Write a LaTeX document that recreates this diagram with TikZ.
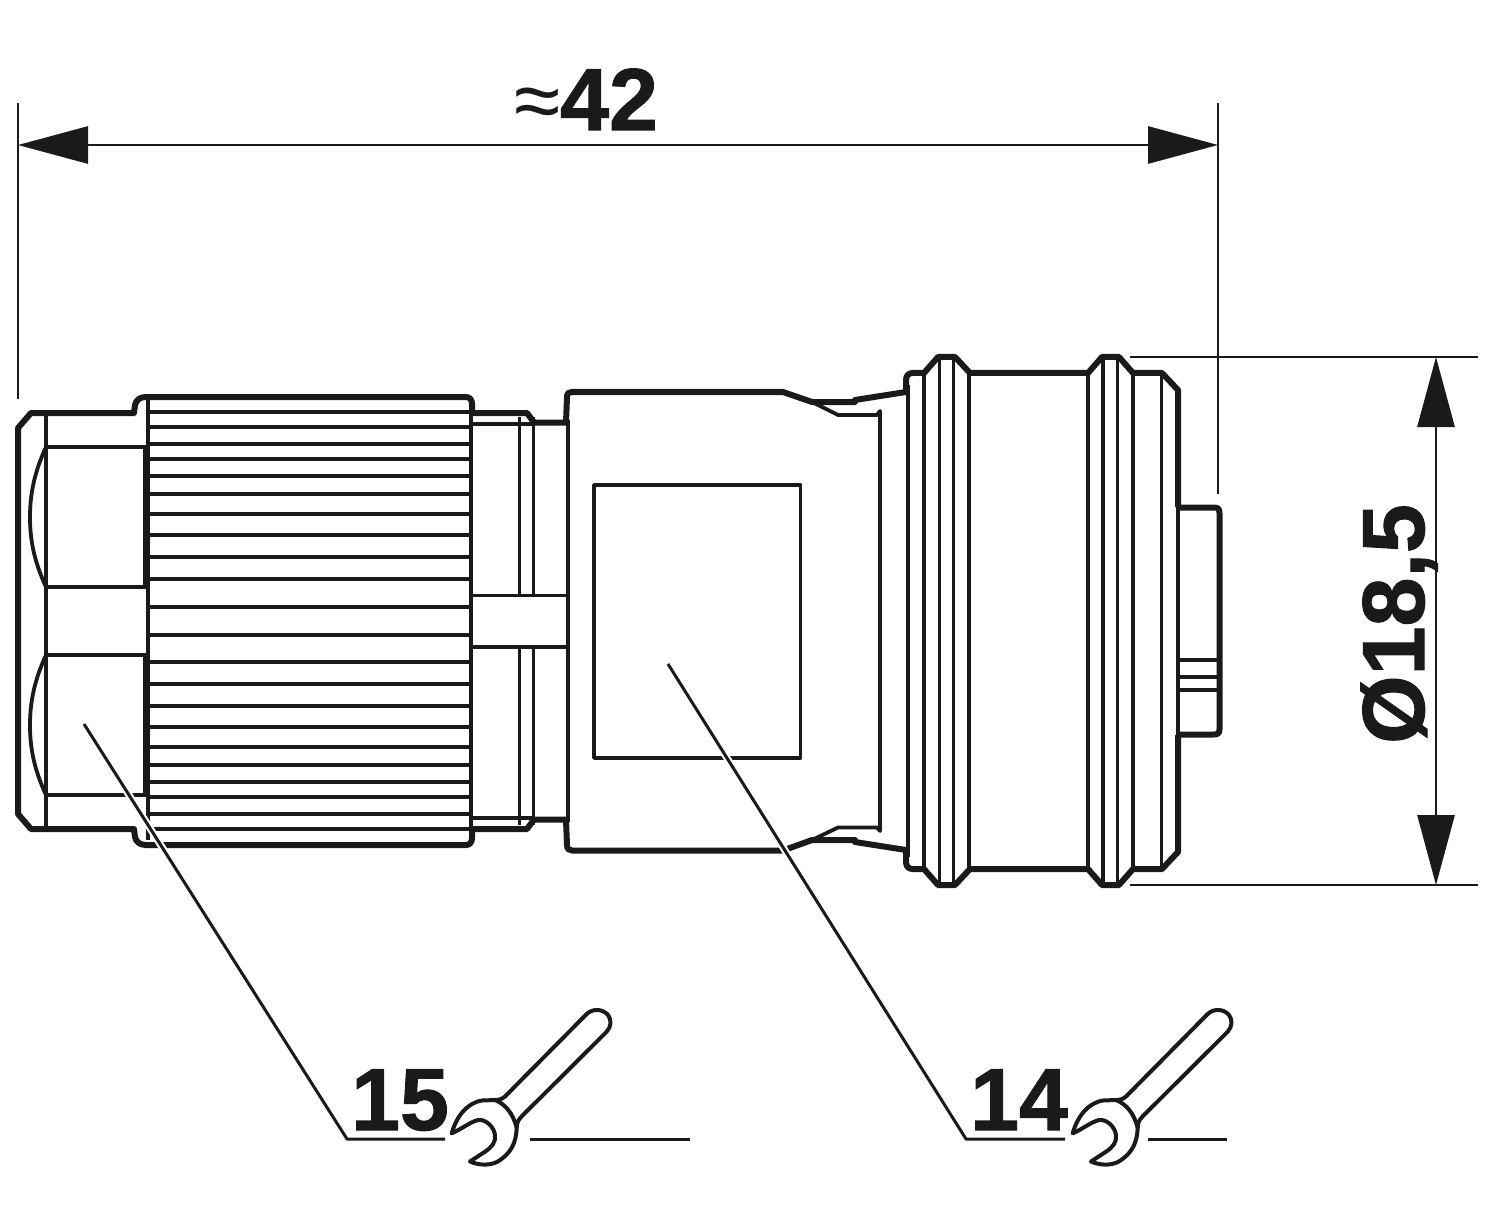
\documentclass[tikz,border=0pt]{standalone}
\usepackage{fontspec}
\setmainfont{Liberation Sans}
\newfontfamily\heavyfont[BoldFeatures={FakeBold=1.2}]{Liberation Sans}
\usetikzlibrary{arrows.meta}
\definecolor{ink}{HTML}{1A1A1A}
\tikzset{
  outline/.style={draw=ink,line width=3pt,line join=round},
  edge/.style={draw=ink,line width=1.9pt,line join=round},
  dimline/.style={draw=ink,line width=1.45pt},
  dimarrow/.style={dimline,{Triangle[length=35pt,width=18.5pt]}-{Triangle[length=35pt,width=18.5pt]}},
  leader/.style={draw=ink,line width=1.5pt,line join=round},
  halo/.style={draw=white,line width=3.6pt},
  wrenchline/.style={draw=ink,line width=2pt,line join=round},
  callout/.style={font=\fontsize{44}{44}\heavyfont\bfseries,text=ink,inner sep=0pt}
}
\begin{document}
\begin{tikzpicture}[x=0.5pt,y=-0.5pt]
\useasboundingbox (0,0) rectangle (1500,1209);

%knurling of the coupling nut
\foreach \yk in {427.3,444,459.3,476,494.3,514,535,556.7,579,606.7,635,662.3,684.3,706.3,727.3,747,765.3,782,797,814}
  \draw[edge] (148,\yk) -- (471,\yk);
\draw[edge] (147,411.7) -- (471,411.7);
\draw[edge] (153,829.3) -- (471,829.3);
\draw[edge] (148,400) -- (148,840);
\draw[edge] (471,400) -- (471,842);

%hexagon faces at the cable end
\draw[edge] (46,413) -- (46,829);
\draw[edge] (46,447) -- (147,447);
\draw[edge] (46,587) -- (147,587);
\draw[edge] (46,655) -- (147,655);
\draw[edge] (46,795) -- (147,795);
\draw[edge] (46,447) .. controls (34,473) and (30,495) .. (30,517) .. controls (30,540) and (34,561) .. (46,587);
\draw[edge] (46,655) .. controls (34,681) and (30,703) .. (30,725) .. controls (30,748) and (34,769) .. (46,795);
\draw[draw=ink,line width=3pt] (146,447) -- (146,587);
\draw[draw=ink,line width=3pt] (146,655) -- (146,795);

%neck between nut and body
\draw[edge] (472,424) -- (534,424);
\draw[edge] (472,818) -- (534,818);
\draw[edge] (472,595.5) -- (568,595.5);
\draw[edge] (472,647) -- (568,647);
\foreach \xn in {519.5,533.5} {
  \draw[edge] (\xn,417) -- (\xn,595.5);
  \draw[edge] (\xn,647) -- (\xn,825);
}

%body and label field
\draw[edge] (568,420) -- (568,822);
\draw[edge] (594,485) rectangle (800.5,758);
\draw[edge] (812,402) -- (838,415) -- (877,415) -- (880,411) -- (880,831) -- (877,827.5) -- (838,827.5) -- (812,840);

%rings of the threaded sleeve
\foreach \xr/\yr in {908/385,924/373,939.5/358,953.5/358,969/373,1088/373,1103/358,1117.5/358,1133/373,1161.5/373,1178/390}
  \draw[edge] (\xr,\yr) -- (\xr,1242-\yr);

%outer contour, top and bottom
\draw[outline] (18,621) -- (18,428) -- (31,413) -- (134,413) -- (135,405) .. controls (136,400) and (140,397) .. (146,397) -- (466,397) .. controls (470,397) and (472,400) .. (472,404) -- (472,413) -- (527,413) -- (534,422.5) -- (566,422.5) -- (567,397) .. controls (567,393) and (569,392) .. (572,392) -- (783,392) -- (812,402) -- (855,402) -- (855,400) -- (906,392) -- (906,380) .. controls (906,375) and (909,373) .. (913,373) -- (924,373) -- (938,357) -- (955,357) -- (970,373) -- (1088,373) -- (1102,357) -- (1119,357) -- (1133,373) -- (1162,373) -- (1178,390) -- (1178,507);
\draw[outline] (18,621) -- (18,814) -- (31,829) -- (134,829) -- (135,837) .. controls (136,842) and (140,845) .. (146,845) -- (466,845) .. controls (470,845) and (472,842) .. (472,838) -- (472,829) -- (527,829) -- (534,819.5) -- (566,819.5) -- (567,845) .. controls (567,849) and (569,850.5) .. (572,850.5) -- (783,850.5) -- (812,840) -- (855,840) -- (855,842) -- (906,850) -- (906,862) .. controls (906,867) and (909,869) .. (913,869) -- (924,869) -- (938,885) -- (955,885) -- (970,869) -- (1088,869) -- (1102,885) -- (1119,885) -- (1133,869) -- (1162,869) -- (1178,852) -- (1178,735);

%plug face on the right
\draw[outline] (1178,507.5) -- (1214,507.5) .. controls (1218,507.5) and (1219.5,509) .. (1219.5,513) -- (1219.5,729) .. controls (1219.5,733) and (1218,734.5) .. (1214,734.5) -- (1178,734.5);
\draw[draw=ink,line width=2.4pt] (1178,660) -- (1219,660);
\draw[edge] (1178,677) -- (1219,677);
\draw[edge] (1178,690) -- (1219,690);

%length dimension
\coordinate (lenL) at (18,145);
\coordinate (lenR) at (1218,145);
\coordinate (extLtop) at (18,103);
\coordinate (extLbot) at (18,399);
\coordinate (extRtop) at (1218,103);
\coordinate (extRbot) at (1218,494);
\draw[dimline] (extLtop) -- (extLbot);
\draw[dimline] (extRtop) -- (extRbot);
\draw[dimarrow] (lenL) -- (lenR);
\node[callout,anchor=base] (lenlabel) at (586,130) {{\fontsize{42}{42}\selectfont\setmainfont{Liberation Sans}\mdseries ≈}42};

%diameter dimension
\coordinate (diaT) at (1436,357);
\coordinate (diaB) at (1436,885);
\coordinate (extTl) at (1130,357);
\coordinate (extTr) at (1478,357);
\coordinate (extBl) at (1130,885);
\coordinate (extBr) at (1478,885);
\draw[dimline] (extTl) -- (extTr);
\draw[dimline] (extBl) -- (extBr);
\draw[dimarrow] (diaT) -- (diaB);
\node[callout,anchor=base,rotate=90] (dialabel) at (1424,624) {Ø18,5};

%leaders with their width marks
\node[callout,anchor=base] (mark15) at (400,1130) {15};
\node[callout,anchor=base] (mark14) at (1019,1130) {14};
\coordinate (tip15) at (84,724);
\coordinate (knee15) at (347,1139);
\coordinate (end15) at (445,1139);
\coordinate (tail15a) at (530,1139);
\coordinate (tail15b) at (690,1139);
\coordinate (tip14) at (668,664);
\coordinate (knee14) at (966,1139);
\coordinate (end14) at (1065,1139);
\coordinate (tail14a) at (1148,1139);
\coordinate (tail14b) at (1227,1139);
\draw[halo] (tip15) -- (knee15);
\draw[halo] (tip14) -- (knee14);
\draw[leader] (tip15) -- (knee15) -- (end15);
\draw[leader] (tail15a) -- (tail15b);
\draw[leader] (tip14) -- (knee14) -- (end14);
\draw[leader] (tail14a) -- (tail14b);

%wrench symbols
\foreach \dx in {0,621} {
  \draw[wrenchline,shift={(\dx,0)}] (451.7,1133.3) .. controls (456,1118) and (466,1103) .. (482,1100.5) -- (495,1100) .. controls (499,1100) and (502,1099) .. (505,1096.5) -- (586.7,1014) .. controls (593,1008) and (603,1009) .. (608,1015) .. controls (612,1020) and (611,1027) .. (606.7,1031.7) -- (522,1116) .. controls (518,1120) and (516.7,1123) .. (516.7,1128) .. controls (516,1142) and (512,1153) .. (497,1162) .. controls (488,1166) and (478,1165) .. (470,1161.5) -- (485,1151.7) .. controls (492,1147) and (496,1142) .. (495,1135) .. controls (494,1127) and (486,1119) .. (478,1120) .. controls (470,1122) and (460,1130) .. (451.7,1133.3) -- cycle;
  \draw[wrenchline,shift={(\dx,0)}] (495,1100) .. controls (505,1104) and (513,1113) .. (516.7,1128);
}

\end{tikzpicture}
\end{document}
